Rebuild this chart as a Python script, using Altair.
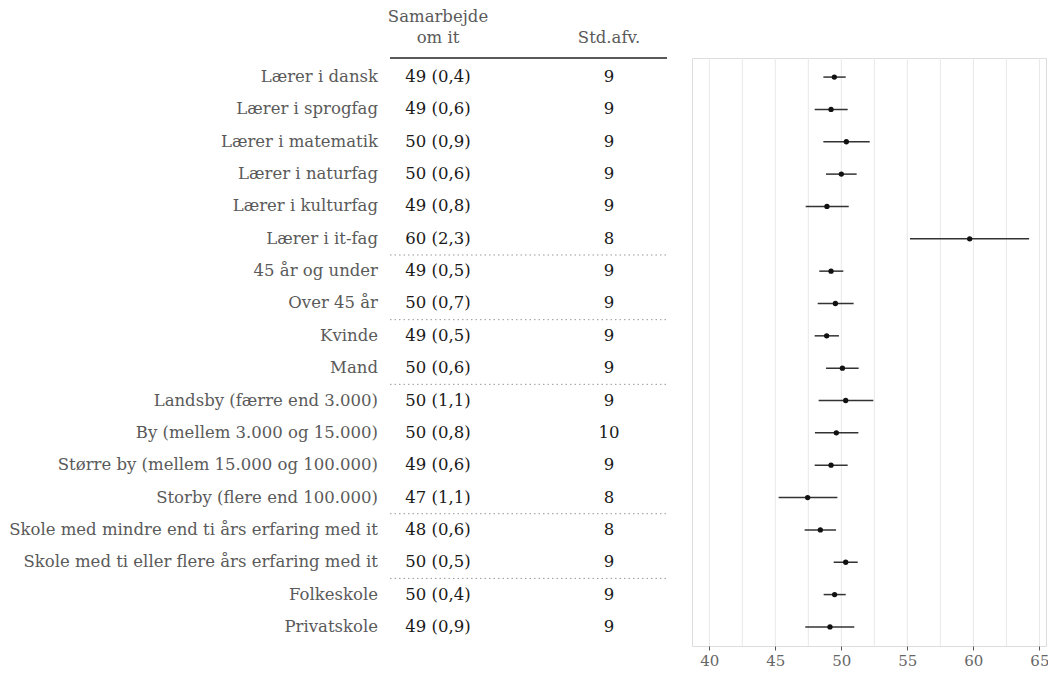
import altair as alt
import pandas as pd

labels = [
    "Lærer i dansk", "Lærer i sprogfag", "Lærer i matematik", "Lærer i naturfag",
    "Lærer i kulturfag", "Lærer i it-fag", "45 år og under", "Over 45 år",
    "Kvinde", "Mand", "Landsby (færre end 3.000)", "By (mellem 3.000 og 15.000)",
    "Større by (mellem 15.000 og 100.000)", "Storby (flere end 100.000)",
    "Skole med mindre end ti års erfaring med it",
    "Skole med ti eller flere års erfaring med it", "Folkeskole", "Privatskole",
]
est = [49.47, 49.22, 50.38, 50.0, 48.91, 59.72, 49.22, 49.55, 48.89, 50.08,
       50.33, 49.62, 49.22, 47.45, 48.41, 50.33, 49.49, 49.14]
lo = [48.64, 47.98, 48.64, 48.84, 47.30, 55.20, 48.33, 48.21, 47.98, 48.84,
      48.28, 48.0, 47.98, 45.25, 47.22, 49.42, 48.66, 47.27]
hi = [50.33, 50.48, 52.15, 51.16, 50.56, 64.22, 50.15, 50.93, 49.82, 51.31,
      52.42, 51.29, 50.48, 49.70, 49.60, 51.24, 50.33, 50.98]
est_txt = ["49 (0,4)", "49 (0,6)", "50 (0,9)", "50 (0,6)", "49 (0,8)", "60 (2,3)",
           "49 (0,5)", "50 (0,7)", "49 (0,5)", "50 (0,6)", "50 (1,1)", "50 (0,8)",
           "49 (0,6)", "47 (1,1)", "48 (0,6)", "50 (0,5)", "50 (0,4)", "49 (0,9)"]
sd = ["9", "9", "9", "9", "9", "8", "9", "9", "9", "9", "9", "10", "9", "8", "8", "9", "9", "9"]
separator_after = ["Lærer i it-fag", "Over 45 år", "Mand", "Storby (flere end 100.000)",
                   "Skole med ti eller flere års erfaring med it"]
grid_values = [40, 42.5, 45, 47.5, 50, 52.5, 55, 57.5, 60, 62.5, 65]
tick_values = [40, 45, 50, 55, 60, 65]
header_col1 = ["Samarbejde", "om it"]
header_col2 = ["Std.afv."]

df = pd.DataFrame({"label": labels, "est": est, "lo": lo, "hi": hi,
                   "est_txt": est_txt, "sd": sd})

FONT = "DejaVu Serif"
FS = 16.5
W, H = 354, 588
PL, PT, PR, PB = 684, 50, 2, 25

ysc = alt.Scale(domain=labels, paddingInner=0, paddingOuter=0.09)
xsc = alt.Scale(domain=[38.69, 65.5], nice=False, zero=False)
Y = alt.Y("label:N", scale=ysc, axis=None)
XAX = alt.Axis(values=tick_values, grid=False, domain=False, tickSize=4,
               tickColor="#555", labelColor="#666", labelFont=FONT,
               labelFontSize=15, labelPadding=3)

# table column anchors relative to the plot's left edge
X_LAB = -314
X_C1 = -254
X_C2 = -83
X_L0, X_L1 = -302, -25

grid = alt.Chart(pd.DataFrame({"g": grid_values})).mark_rule(
    color="#e8e8e8", strokeWidth=1
).encode(x=alt.X("g:Q", scale=xsc, title=None, axis=XAX))

ci = alt.Chart(df).mark_rule(color="#333", strokeWidth=1.5).encode(
    x=alt.X("lo:Q", scale=xsc, title=None, axis=XAX),
    x2="hi:Q",
    y=Y,
)
pts = alt.Chart(df).mark_circle(size=28, color="#111", opacity=1).encode(
    x=alt.X("est:Q", scale=xsc, title=None, axis=XAX), y=Y
)

lab = alt.Chart(df).mark_text(align="right", baseline="middle", font=FONT,
                              fontSize=FS, color="#5a5a5a").encode(
    y=Y, x=alt.value(X_LAB), text="label:N")
c1 = alt.Chart(df).mark_text(align="center", baseline="middle", font=FONT,
                             fontSize=FS, color="#1a1a1a").encode(
    y=Y, x=alt.value(X_C1), text="est_txt:N")
c2 = alt.Chart(df).mark_text(align="center", baseline="middle", font=FONT,
                             fontSize=FS, color="#1a1a1a").encode(
    y=Y, x=alt.value(X_C2), text="sd:N")

sep = alt.Chart(pd.DataFrame({"label": separator_after})).mark_rule(
    color="#999", strokeDash=[1.5, 3], strokeWidth=1
).encode(y=alt.Y("label:N", scale=ysc, axis=None, bandPosition=1),
         x=alt.value(X_L0), x2=alt.value(X_L1))

hline = alt.Chart(pd.DataFrame({"a": [0]})).mark_rule(color="#222", strokeWidth=1.3).encode(
    y=alt.value(0), x=alt.value(X_L0), x2=alt.value(X_L1))

h1a = alt.Chart(pd.DataFrame({"t": [header_col1[0]]})).mark_text(
    align="center", baseline="alphabetic", font=FONT, fontSize=FS, color="#5a5a5a"
).encode(text="t:N", x=alt.value(X_C1), y=alt.value(-36))
h1b = alt.Chart(pd.DataFrame({"t": [header_col1[1]]})).mark_text(
    align="center", baseline="alphabetic", font=FONT, fontSize=FS, color="#5a5a5a"
).encode(text="t:N", x=alt.value(X_C1), y=alt.value(-15))
h2 = alt.Chart(pd.DataFrame({"t": header_col2})).mark_text(
    align="center", baseline="alphabetic", font=FONT, fontSize=FS, color="#5a5a5a"
).encode(text="t:N", x=alt.value(X_C2), y=alt.value(-15))

chart = alt.layer(grid, ci, pts, lab, c1, c2, sep, hline, h1a, h1b, h2).properties(
    width=W, height=H,
    autosize=alt.AutoSizeParams(type="none"),
    padding={"left": PL, "top": PT, "right": PR, "bottom": PB},
).configure_view(stroke="#555", strokeWidth=1.3).configure(background="white")

chart.save("out.html", embed_options={"renderer": "svg", "actions": False})
